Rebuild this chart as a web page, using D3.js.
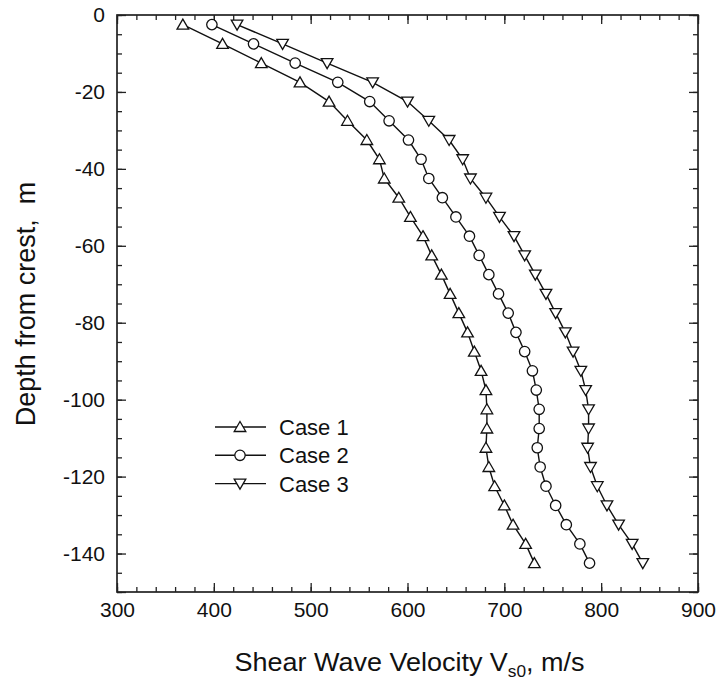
<!DOCTYPE html>
<html>
<head>
<meta charset="utf-8">
<script src="https://cdn.jsdelivr.net/npm/d3@7"></script>
<style>
  body { margin: 0; background: #fff; }
  svg { display: block; font-family: Arial, "Liberation Sans", sans-serif; }
</style>
</head>
<body>
<div class="chart"></div>
<script>
// depth of each sample (m, below crest)
const depths = [-2.5, -7.5, -12.5, -17.5, -22.5, -27.5, -32.5, -37.5, -42.5, -47.5,
    -52.5, -57.5, -62.5, -67.5, -72.5, -77.5, -82.5, -87.5, -92.5, -97.5,
    -102.5, -107.5, -112.5, -117.5, -122.5, -127.5, -132.5, -137.5, -142.5];

// shear wave velocity Vs0 (m/s) for each case
const case1 = [368, 409, 449, 489, 519, 538, 558, 571, 576, 591, 603, 616, 625, 635, 644,
    653, 662, 669, 676, 681, 682, 682, 681, 684, 690, 700, 709, 722, 731];
const case2 = [398, 441, 484, 528, 561, 581, 601, 614, 622, 636, 650, 664, 674, 684, 694,
    704, 712, 721, 729, 733, 736, 736, 734, 737, 743, 753, 764, 778, 788];
const case3 = [424, 471, 517, 564, 600, 622, 643, 657, 665, 681, 695, 710, 721, 732, 743,
    753, 763, 771, 779, 784, 787, 787, 786, 789, 796, 806, 818, 832, 843];

const seriesNames = ['Case 1', 'Case 2', 'Case 3'];
const seriesMarkers = ['up', 'circle', 'down'];

const xTicks = [300, 400, 500, 600, 700, 800, 900];
const yTicks = [0, -20, -40, -60, -80, -100, -120, -140];

const draw = () => {
    const W = 718, H = 684;
    const left = 117, right = 698, top = 15, bottom = 592;

    const x = d3.scaleLinear().domain([300, 900]).range([left, right]);
    const y = d3.scaleLinear().domain([0, -150]).range([top, bottom]);

    const svg = d3.select('.chart').append('svg')
        .attr('width', W)
        .attr('height', H);

    // minor + major ticks, all pointing inward, mirrored on all four sides
    const xMinor = d3.range(300, 901, 20);
    const yMinor = d3.range(0, -151, -5);
    const yMajor = d3.range(0, -151, -20).concat([-150]);

    const addAxis = (axis, tx, ty) => {
        const g = svg.append('g')
            .attr('transform', `translate(${tx},${ty})`)
            .call(axis);
        g.select('.domain').remove();
        g.selectAll('line').attr('stroke', '#222').attr('stroke-width', 1.3);
        return g;
    };

    // minor ticks
    addAxis(d3.axisBottom(x).tickValues(xMinor).tickSize(-5).tickFormat(''), 0, bottom);
    addAxis(d3.axisTop(x).tickValues(xMinor).tickSize(-5).tickFormat(''), 0, top);
    addAxis(d3.axisLeft(y).tickValues(yMinor).tickSize(-5).tickFormat(''), left, 0);
    addAxis(d3.axisRight(y).tickValues(yMinor).tickSize(-5).tickFormat(''), right, 0);

    // major ticks with labels
    const gx = addAxis(d3.axisBottom(x).tickValues(xTicks).tickSize(-9).tickPadding(10)
        .tickFormat(d3.format('d')), 0, bottom);
    addAxis(d3.axisTop(x).tickValues(xTicks).tickSize(-9).tickFormat(''), 0, top);
    const gy = addAxis(d3.axisLeft(y).tickValues(yMajor).tickSize(-9).tickPadding(12)
        .tickFormat(d => yTicks.includes(d) ? d3.format('d')(d) : ''), left, 0);
    addAxis(d3.axisRight(y).tickValues(yMajor).tickSize(-9).tickFormat(''), right, 0);

    gx.selectAll('text').attr('font-size', 21).attr('fill', '#111')
        .attr('font-family', 'Arial, "Liberation Sans", sans-serif');
    gy.selectAll('text').attr('font-size', 21).attr('fill', '#111')
        .attr('font-family', 'Arial, "Liberation Sans", sans-serif')
        .text(d => yTicks.includes(d) ? (d === 0 ? '0' : '-' + Math.abs(d)) : '');

    // frame
    svg.append('rect')
        .attr('x', left).attr('y', top)
        .attr('width', right - left).attr('height', bottom - top)
        .attr('fill', 'none')
        .attr('stroke', '#222')
        .attr('stroke-width', 1.7);

    // markers
    const markerPath = (type) => {
        if (type === 'up') return 'M0,-5.5L5.8,4.5L-5.8,4.5Z';
        if (type === 'down') return 'M0,5.5L5.8,-4.5L-5.8,-4.5Z';
        return d3.symbol(d3.symbolCircle, Math.PI * 5.2 * 5.2)();
    };

    const allSeries = [case1, case2, case3];
    const line = d3.line()
        .x(d => x(d[0]))
        .y(d => y(d[1]));

    allSeries.forEach((vals, i) => {
        const pts = vals.map((v, j) => [v, depths[j]]);
        svg.append('path')
            .datum(pts)
            .attr('fill', 'none')
            .attr('stroke', '#111')
            .attr('stroke-width', 1.4)
            .attr('d', line);
        svg.append('g')
            .selectAll('path')
            .data(pts)
            .join('path')
            .attr('transform', d => `translate(${x(d[0])},${y(d[1])})`)
            .attr('d', markerPath(seriesMarkers[i]))
            .attr('fill', '#fff')
            .attr('stroke', '#111')
            .attr('stroke-width', 1.3);
    });

    // legend
    const legend = svg.append('g').attr('transform', 'translate(215,427)');
    seriesNames.forEach((name, i) => {
        const row = legend.append('g').attr('transform', `translate(0,${i * 28.3})`);
        row.append('line')
            .attr('x1', 0).attr('x2', 51)
            .attr('stroke', '#111').attr('stroke-width', 1.4);
        row.append('path')
            .attr('transform', 'translate(25,0)')
            .attr('d', markerPath(seriesMarkers[i]))
            .attr('fill', '#fff')
            .attr('stroke', '#111')
            .attr('stroke-width', 1.3);
        row.append('text')
            .attr('x', 64).attr('y', 8)
            .attr('font-size', 22)
            .attr('fill', '#111')
            .text(name);
    });

    // axis titles
    const xt = svg.append('text')
        .attr('transform', `translate(${(left + right) / 2 + 2},671) scale(1.08,1)`)
        .attr('text-anchor', 'middle')
        .attr('font-size', 25)
        .attr('fill', '#111');
    xt.append('tspan').text('Shear Wave Velocity V');
    xt.append('tspan').attr('font-size', 16).attr('dy', 6).text('s0');
    xt.append('tspan').attr('dy', -6).text(', m/s');

    svg.append('text')
        .attr('transform', 'translate(35,304) rotate(-90)')
        .attr('text-anchor', 'middle')
        .attr('font-size', 27)
        .attr('fill', '#111')
        .attr('xml:space', 'preserve')
        .text('Depth from crest,  m');
};

draw();
</script>
</body>
</html>
